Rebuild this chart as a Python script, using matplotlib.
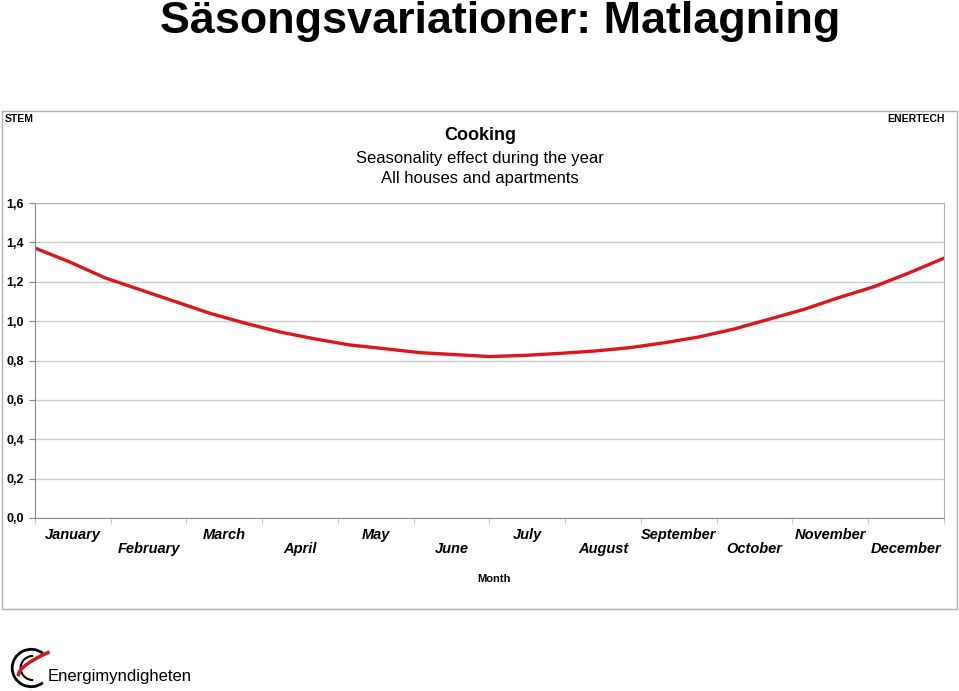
import numpy as np
import matplotlib
matplotlib.use("Agg")
from matplotlib import pyplot as plt
from matplotlib.patches import Rectangle, Arc

plt.rcParams['font.family'] = ['Liberation Sans', 'DejaVu Sans']

months = ["January", "February", "March", "April", "May", "June",
          "July", "August", "September", "October", "November", "December"]

factor = [1.371, 1.30, 1.22, 1.16, 1.10, 1.04, 0.99, 0.945, 0.91, 0.879,
          0.86, 0.84, 0.83, 0.82, 0.826, 0.836, 0.848, 0.865, 0.89, 0.92,
          0.96, 1.01, 1.06, 1.12, 1.175, 1.245, 1.32]

yticks = [0.0, 0.2, 0.4, 0.6, 0.8, 1.0, 1.2, 1.4, 1.6]

fig = plt.figure(figsize=(9.59, 6.91), dpi=100)

# outer panel box
fig.patches.append(Rectangle((2 / 959, 1 - 609 / 691), 955 / 959, 498 / 691,
                             transform=fig.transFigure, fill=False,
                             edgecolor="#b0b0b0", linewidth=1))

fig.text(160 / 959, 1 - 33 / 691, "Säsongsvariationer: Matlagning",
         fontsize=32.3, fontweight="bold", va="baseline", ha="left")

fig.text(480 / 959, 1 - 136 / 691, "Cooking", fontsize=13, fontweight="bold",
         ha="center", va="center")
fig.text(480 / 959, 1 - 158 / 691, "Seasonality effect during the year",
         fontsize=12, ha="center", va="center")
fig.text(480 / 959, 1 - 179 / 691, "All houses and apartments",
         fontsize=12, ha="center", va="center")
fig.text(5 / 959, 1 - 119 / 691, "STEM", fontsize=7.5, fontweight="bold",
         ha="left", va="center")
fig.text(945 / 959, 1 - 119 / 691, "ENERTECH", fontsize=7.5, fontweight="bold",
         ha="right", va="center")
fig.text(494 / 959, 1 - 579 / 691, "Month", fontsize=8, fontweight="bold",
         ha="center", va="center")

ax = fig.add_axes([35 / 959, 1 - 518 / 691, 909 / 959, 315 / 691])
x = np.arange(len(factor)) * 12 / (len(factor) - 1)
ax.plot(x, factor, color="#e0151b", linewidth=2.4, solid_capstyle="round")

ax.set_xlim(0, 12)
ax.set_ylim(0, 1.6)
ax.set_yticks(yticks)
ax.set_yticklabels([("%.1f" % v).replace(".", ",") for v in yticks],
                   fontsize=9, fontweight="bold")
ax.yaxis.grid(True, color="#cccccc", linewidth=1)
ax.set_axisbelow(True)

ax.set_xticks(np.arange(13))
ax.set_xticklabels([])
ax.tick_params(axis="x", which="major", length=4, color="#cccccc")
ax.tick_params(axis="y", length=4, color="#888888", pad=4)
ax.set_xticks(np.arange(12) + 0.5, minor=True)
ax.set_xticklabels([m if i % 2 == 0 else "\n" + m for i, m in enumerate(months)],
                   minor=True, fontsize=10.5, fontweight="bold", style="italic",
                   linespacing=1.05)
ax.tick_params(axis="x", which="minor", length=0, pad=7)

for side in ["top", "right"]:
    ax.spines[side].set_color("#b0b0b0")
ax.spines["left"].set_color("#888888")
ax.spines["bottom"].set_color("#888888")

# simple logo
lax = fig.add_axes([8 / 959, 1 - 690 / 691, 42 / 959, 44 / 691])
lax.set_xlim(0, 1)
lax.set_ylim(0, 1)
lax.axis("off")
lax.add_patch(Arc((0.55, 0.5), 0.9, 0.85, theta1=50, theta2=310, color="black", linewidth=2))
lax.add_patch(Arc((0.6, 0.5), 0.6, 0.55, theta1=90, theta2=270, color="black", linewidth=1.5))
t = np.linspace(0, 1, 30)
lax.plot(0.25 + 0.7 * t, 0.35 + 0.5 * t ** 0.6, color="#d0161e", linewidth=2.5)
fig.text(48 / 959, 1 - 677 / 691, "Energimyndigheten", fontsize=12,
         ha="left", va="center")

fig.savefig("out.png", dpi=100)
